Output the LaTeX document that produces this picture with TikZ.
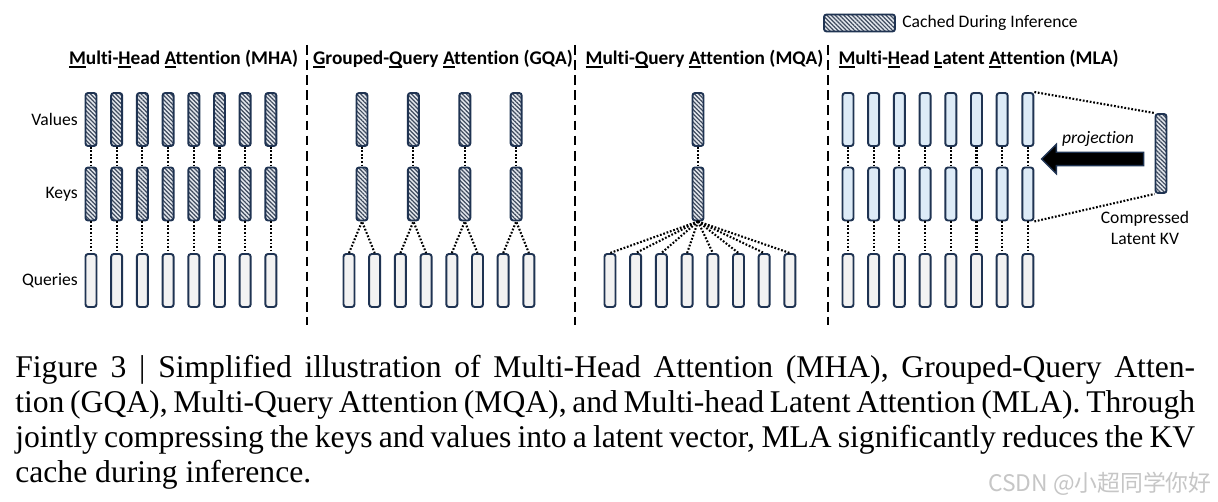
\documentclass[tikz,border=0pt]{standalone}
\usepackage{fontspec}
\setmainfont{Carlito}[Ligatures=NoCommon]
\newfontfamily\capfont{Liberation Serif}
\newfontfamily\cjkfont{Noto Sans CJK SC}
\usetikzlibrary{patterns.meta,shapes.arrows}
\definecolor{barline}{HTML}{1F3352}
\definecolor{qfill}{HTML}{F2F2F2}
\definecolor{mlafill}{HTML}{DDEBF7}
\definecolor{hatchbg}{HTML}{E4E8EE}
\definecolor{hatch}{HTML}{3F4B5E}
% thick underline for the initials in the titles
\newcommand{\ini}[1]{\setbox0\hbox{#1}\rlap{\raisebox{-2.3pt}{\rule{\wd0}{1.1pt}}}#1}

\begin{document}
\begin{tikzpicture}[x=0.02cm, y=-0.02cm,
		bar/.style = {rectangle, draw=barline, line width=1.1pt, rounded corners=1.5pt, minimum width=0.22cm, minimum height=1.06cm, inner sep=0},
		qr/.style = {bar, fill=qfill},
		ml/.style = {bar, fill=mlafill},
		vk/.style = {bar, preaction={fill=hatchbg}, pattern={Lines[angle=-45, distance=1.7pt, line width=0.7pt]}, pattern color=hatch},
		dot/.style = {line width=1.2pt, dash pattern=on 1pt off 1pt},
		divider/.style = {line width=1.6pt, dash pattern=on 5.6pt off 3pt},
		ttl/.style = {font=\fontsize{11}{13}\selectfont\bfseries, inner sep=0},
		lab/.style = {font=\fontsize{10}{12}\selectfont, inner sep=0}
		]
		\fill[white] (0,0) rectangle (1218,502);
		\useasboundingbox (0,0) rectangle (1218,502);

		%Legend and titles
		\node[vk, minimum width=1.42cm, minimum height=0.34cm]	(leg)	at	(859.5,23)	{};
		\node[lab, anchor=west]	(legtxt)	at	(902,23)	{Cached During Inference};
		\node[ttl]	(tmha)	at	(183.5,59)	{\ini{M}ulti-\ini{H}ead \ini{A}ttention (MHA)};
		\node[ttl]	(tgqa)	at	(443,59)	{\ini{G}rouped-\ini{Q}uery \ini{A}ttention (GQA)};
		\node[ttl]	(tmqa)	at	(704.5,59)	{\ini{M}ulti-\ini{Q}uery \ini{A}ttention (MQA)};
		\node[ttl]	(tmla)	at	(978.5,59)	{\ini{M}ulti-\ini{H}ead \ini{L}atent \ini{A}ttention (MLA)};
		\node[lab, anchor=east]	(rowv)	at	(78,119.5)	{Values};
		\node[lab, anchor=east]	(rowk)	at	(78,194)	{Keys};
		\node[lab, anchor=east]	(rowq)	at	(78,280.5)	{Queries};

		%Dividers
		\draw[divider]	(307,45)	--	(307,325);
		\draw[divider]	(575,45)	--	(575,325);
		\draw[divider]	(828,45)	--	(828,325);

		%MHA
		\foreach \i in {1,...,8} {
			\node[vk]	(hv\i)	at	({91+25.7*(\i-1)},119.5)	{};
			\node[vk]	(hk\i)	at	({91+25.7*(\i-1)},194)		{};
			\node[qr]	(hq\i)	at	({91+25.7*(\i-1)},280.5)	{};
			\draw[dot]	(hv\i)	--	(hk\i)	--	(hq\i);
		}

		%GQA
		\foreach \i in {1,...,8}
			\node[qr]	(gq\i)	at	({349+25.7*(\i-1)},280.5)	{};
		\foreach \i [evaluate=\i as \a using int(2*\i-1), evaluate=\i as \b using int(2*\i)] in {1,...,4} {
			\node[vk]	(gv\i)	at	({362+51.4*(\i-1)},119.5)	{};
			\node[vk]	(gk\i)	at	({362+51.4*(\i-1)},194)		{};
			\draw[dot]	(gv\i)	--	(gk\i);
			\draw[dot]	(gq\a.north)	--	(gk\i.south)	--	(gq\b.north);
		}

		%MQA
		\node[vk]	(mv)	at	(698,119.5)	{};
		\node[vk]	(mk)	at	(698,194)	{};
		\draw[dot]	(mv)	--	(mk);
		\foreach \i in {1,...,8} {
			\node[qr]	(mq\i)	at	({610+25.7*(\i-1)},280.5)	{};
			\draw[dot]	(mk.south)	--	(mq\i.north);
		}

		%MLA
		\foreach \i in {1,...,8} {
			\node[ml]	(lv\i)	at	({848+25.7*(\i-1)},119.5)	{};
			\node[ml]	(lk\i)	at	({848+25.7*(\i-1)},194)		{};
			\node[qr]	(lq\i)	at	({848+25.7*(\i-1)},280.5)	{};
			\draw[dot]	(lv\i)	--	(lk\i)	--	(lq\i);
		}
		\node[vk, minimum height=1.58cm]	(kv)	at	(1161,153.5)	{};
		\draw[dot]	(lv8.north east)	--	(kv.north west);
		\draw[dot]	(lk8.south east)	--	(kv.south west);
		\node[single arrow, shape border rotate=180, fill=black, draw=barline, line width=0.8pt, minimum height=2.04cm, inner xsep=0, inner ysep=0.12cm, single arrow head extend=0.16cm]	(proj)	at	(1096,159)	{};
		\node[lab, font=\fontsize{10}{12}\selectfont\itshape]	(projtxt)	at	(1098,139)	{projection};
		\node[lab, align=center, font=\fontsize{10}{12.2}\selectfont]	(kvtxt)	at	(1145,228)	{Compressed\\Latent KV};

		%Caption
		\node[anchor=base west, inner sep=0, text width=23.6cm, align=justify, font=\capfont\fontsize{18}{19.84}\selectfont]	(cap)	at	(15,378)	{Figure 3 | Simplified illustration of Multi-Head Attention (MHA), Grouped-Query Atten-\linebreak tion (GQA), Multi-Query Attention (MQA), and Multi-head Latent Attention (MLA). Through\linebreak jointly compressing the keys and values into a latent vector, MLA significantly reduces the KV\linebreak cache during inference.};
		\node[anchor=east, inner sep=0, text=gray!45, font=\cjkfont\fontsize{13}{15}\selectfont]	(wm)	at	(1212,484)	{CSDN @小超同学你好};
	\end{tikzpicture}
\end{document}
